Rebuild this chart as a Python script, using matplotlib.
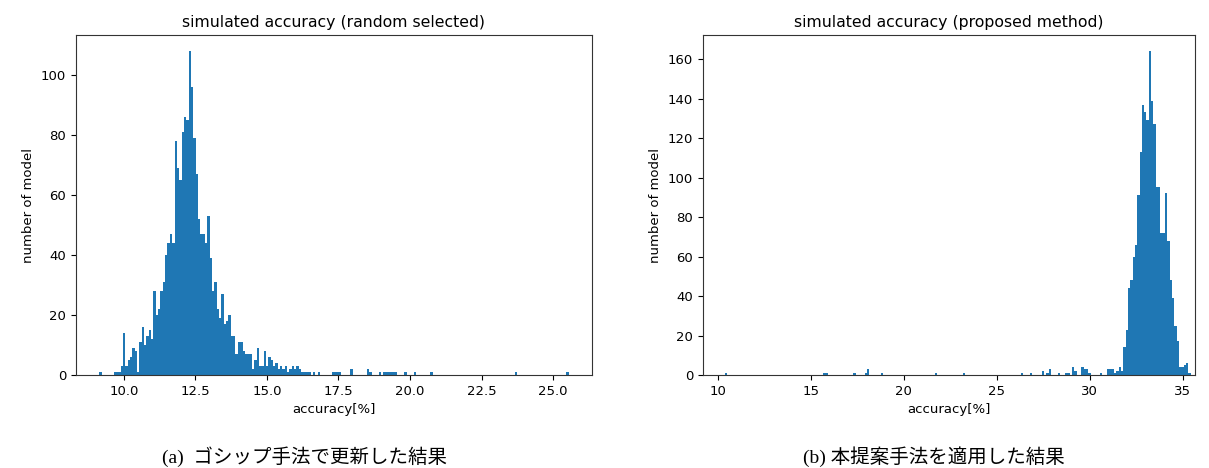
import numpy as np
import matplotlib
matplotlib.use("Agg")
import matplotlib.pyplot as plt

# ---------------- data ----------------
# left: random selected, 200 bins between these edges
left_range = (9.15, 25.54)
left_counts = [0] * 200
left_nonzero = {
    0: 1, 6: 1, 7: 1, 8: 1, 9: 3, 10: 14, 11: 3, 12: 5, 13: 6, 14: 9, 15: 8,
    16: 1, 17: 11, 18: 16, 19: 10, 20: 13, 21: 15, 22: 12, 23: 28, 24: 20,
    25: 22, 26: 28, 27: 31, 28: 40, 29: 44, 30: 47, 31: 44, 32: 78, 33: 69,
    34: 65, 35: 81, 36: 86, 37: 85, 38: 108, 39: 96, 40: 79, 41: 67, 42: 52,
    43: 47, 44: 47, 45: 44, 46: 53, 47: 39, 48: 28, 49: 31, 50: 22, 51: 19,
    52: 27, 53: 17, 54: 18, 55: 20, 56: 13, 57: 13, 58: 7, 59: 11, 60: 11,
    61: 8, 62: 7, 63: 7, 64: 7, 65: 2, 66: 5, 67: 9, 68: 3, 69: 3, 70: 8,
    71: 3, 72: 6, 73: 5, 74: 3, 75: 4, 76: 2, 77: 3, 78: 2, 79: 3, 80: 1,
    81: 2, 82: 3, 83: 2, 84: 3, 85: 2, 86: 1, 87: 1, 88: 1, 89: 1, 91: 1,
    93: 1, 99: 1, 100: 1, 101: 1, 102: 1, 107: 2, 114: 2, 115: 1, 119: 1,
    121: 1, 122: 1, 123: 1, 124: 1, 125: 1, 126: 1, 130: 1, 134: 1, 141: 1,
    177: 1, 199: 1,
}
for k, v in left_nonzero.items():
    left_counts[k] = v

# right: proposed method, 200 bins between these edges
right_range = (10.41, 35.42)
right_counts = [0] * 200
right_nonzero = {
    0: 1, 42: 1, 43: 1, 55: 1, 60: 1, 61: 3, 67: 1, 90: 1, 102: 1, 127: 1,
    131: 1, 136: 2, 138: 1, 139: 3, 143: 1, 146: 1, 147: 1, 149: 4, 150: 2,
    153: 4, 154: 3, 155: 3, 156: 1, 161: 1, 164: 3, 165: 3, 166: 3, 167: 1,
    168: 2, 169: 4, 170: 2, 171: 14, 172: 23, 173: 44, 174: 48, 175: 60,
    176: 66, 177: 91, 178: 113, 179: 137, 180: 133, 181: 129, 182: 164,
    183: 139, 184: 127, 185: 95, 186: 95, 187: 72, 188: 72, 189: 92, 190: 68,
    191: 48, 192: 39, 193: 25, 194: 17, 195: 4, 196: 4, 197: 5, 198: 6, 199: 1,
}
for k, v in right_nonzero.items():
    right_counts[k] = v

titles = ["simulated accuracy (random selected)", "simulated accuracy (proposed method)"]
xlabel = "accuracy[%]"
ylabel = "number of model"
captions = ["(a)  ゴシップ手法で更新した結果", "(b) 本提案手法を適用した結果"]

# ---------------- plot ----------------
W, H = 1209, 468
fig = plt.figure(figsize=(W / 100, H / 100), dpi=100)
color = "#1f77b4"

ax1 = fig.add_axes([76 / W, 1 - 375 / H, 516 / W, 340 / H])
ax2 = fig.add_axes([703 / W, 1 - 375 / H, 492 / W, 340 / H])

for ax, rng, counts, title in [(ax1, left_range, left_counts, titles[0]),
                               (ax2, right_range, right_counts, titles[1])]:
    edges = np.linspace(rng[0], rng[1], len(counts) + 1)
    ax.hist(edges[:-1], bins=edges, weights=counts, color=color)
    ax.set_title(title, fontsize=11.3, pad=6)
    ax.set_xlabel(xlabel, fontsize=9.5)
    ax.set_ylabel(ylabel, fontsize=9.5)
    ax.tick_params(labelsize=9.5)
    for s in ax.spines.values():
        s.set_color("#333333")

ax2.set_xlim(9.22, 35.65)

cap_font = ["Liberation Serif", "Noto Sans CJK JP"]
fig.text(304 / W, 1 - 457 / H, captions[0], ha="center", va="center",
         fontsize=14, family=cap_font)
fig.text(934 / W, 1 - 457 / H, captions[1], ha="center", va="center",
         fontsize=14, family=cap_font)

fig.savefig("out.png", dpi=100)
